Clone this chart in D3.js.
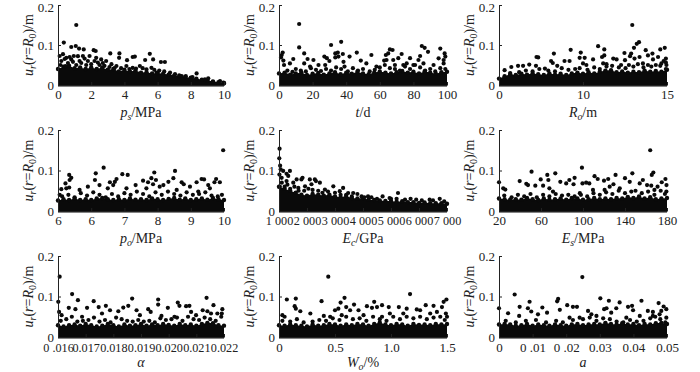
<!DOCTYPE html>
<html>
<head>
<meta charset="utf-8">
<script src="https://cdn.jsdelivr.net/npm/d3@7"></script>
<style>
  html, body { margin: 0; background: #fff; }
  svg { display: block; }
  text { font-family: "Liberation Serif", serif; fill: #222; }
</style>
</head>
<body>
<div id="chart"></div>
<script>
var svgWidth = 700;
var svgHeight = 372;

// y values shared by the panels
var yTicks = [0, 0.1, 0.2];
var yTickLabels = ["0", "0.1", "0.2"];

// panel 1: p_s
var psTicks = [0, 2, 4, 6, 8, 10];
var psLabels = ["0", "2", "4", "6", "8", "10"];
var psX = [1.1,.35,.8,1.07,1.27,1.55,2.15,2.27,3.7,3.15,4.5,4.63,5.53,5.25,5.73,6.2,6.44,4.16,3.68,3.22,2.6,1.9,1.5,.95,.3,.1,.5,.8,1.3,1.8,2.4,2.9,8.35,6.75,7.05,7.45,8.85,9.05,9.76,9.35,9.96,10,4.5,5.33,5.63,5.94,4.93,4.12,3.52];
var psY = [.15,.106,.095,.0975,.091,.089,.087,.085,.079,.079,.07,.071,.078,.0625,.064,.0575,.0575,.062,.068,.052,.064,.0725,.0725,.0725,.077,.0725,.068,.064,.06,.06,.056,.06,.029,.031,.027,.0225,.014,.0167,.01,.0075,.006,.004,.043,.039,.043,.031,.0475,.0475,.0475];
var psMoreX = [.2,.4,.6,.9,1.1,1.4,1.7,2,2.2,2.5,2.8,3.1,3.4,3.8,4.3,4.7,5.1,5.8,6.1,6.4,6.7,7.3,7.7,8.1,.15,.45,.7,1.2,1.6,2.3,2.7];
var psMoreY = [.06,.065,.055,.058,.05,.055,.05,.052,.06,.05,.048,.045,.042,.042,.04,.041,.042,.038,.036,.034,.026,.024,.022,.02,.05,.047,.07,.072,.066,.068,.055];
var psBand = [.04,.046,.048,.042,.044,.04,.044,.04,.044,.038,.04,.034,.038,.034,.036,.031,.032,.029,.03,.028,.026,.024,.022,.02,.018,.016,.013,.012,.009,.007,.005];

// panel 2: t
var tTicks = [0, 20, 40, 60, 80, 100];
var tLabels = ["0", "20", "40", "60", "80", "100"];
var tX = [12,12,31,37,1.6,2.2,1.2,2.6,3,8.5,6.5,15,17,20.5,15,27,28.5,30,27.5,33.5,35,38,33.5,35.4,38.4,42,46.3,48.7,55,52,63.6,65,66,67.6,73,71,68,64,62.6,85,86.7,88.7,84,83,78,96,98.6,99,95,98,98,76,80,86,92,18.5,23.5,39,58,69,74];
var tY = [.1525,.094,.1,.108,.075,.081,.069,.061,.05,.065,.054,.079,.065,.0625,.054,.071,.067,.06,.05,.079,.081,.0775,.069,.071,.058,.071,.081,.061,.075,.054,.075,.079,.089,.0875,.0775,.067,.0625,.0625,.061,.0975,.093,.083,.0725,.0625,.067,.091,.079,.071,.0667,.0625,.054,.054,.05,.054,.05,.046,.05,.046,.046,.05,.05];
var tMoreX = [5,8,10,13,16,19,22,25,28,31,34,37,41,44,47,50,54,57,60,63,66,69,72,75,78,81,84,87,90,93,96,99];
var tMoreY = [.036,.033,.04,.036,.034,.042,.038,.035,.04,.036,.044,.04,.034,.042,.036,.04,.034,.038,.044,.05,.042,.04,.036,.046,.04,.05,.044,.036,.04,.034,.042,.04];
var tBand = [.029,.031,.026,.029,.031,.025,.028,.03,.026,.029,.032,.027,.031,.028,.033,.029,.027,.031,.034,.031,.029,.032,.035,.031,.033,.029,.034,.031,.028,.032,.033];

// panel 3: R_0
var roTicks = [0, 7.5, 15];
var roLabels = ["0", "10", "15"];
var roX = [11.9,12.5,12.3,12.05,8.85,9.4,6.4,4.9,7.3,3.5,3.35,7.2,7.65,8.4,9.4,9.2,11.2,13.1,13.3,14.4,14.8,14.9,13.7,11.8,10.2,10.5,11.25,11.7,12.1,12.55,14.2,13.75,4.65,4.8,5.85,6.3,1.7,2.15,2.7,3.3,1.1,5.2,7.5,7.8,9.3,9.6,10.9,12.85,14.5,14.95,.5,4.1];
var roY = [.15,.107,.103,.093,.097,.089,.088,.0785,.081,.069,.07,.068,.068,.064,.074,.07,.08,.087,.074,.089,.093,.066,.0785,.0785,.066,.064,.062,.072,.066,.07,.07,.064,.06,.055,.06,.06,.048,.048,.051,.048,.045,.048,.054,.05,.054,.052,.05,.054,.054,.05,.037,.041];
var roMoreX = [1,1.8,2.4,3,3.6,4.4,5,5.6,6.2,6.8,7.2,7.9,8.5,9,9.6,10.1,10.7,11.3,11.6,12,12.4,12.9,13.3,13.6,14,14.4,14.7,14.9,14.9];
var roMoreY = [.03,.032,.036,.034,.04,.036,.034,.042,.038,.04,.042,.038,.044,.04,.046,.048,.044,.042,.05,.046,.052,.044,.05,.046,.05,.048,.06,.056,.04];
var roBand = [.016,.022,.027,.025,.028,.026,.029,.027,.025,.029,.026,.028,.025,.029,.031,.028,.032,.029,.033,.036,.037,.032,.034,.031,.033,.032,.036,.033,.035,.033,.038];

// panel 4: p_0
var poTicks = [6, 6.8, 7.6, 8.4, 9.2, 10];
var poLabels = ["6", "6", "7", "8", "9", "10"];
var poX = [9.98,7.1,6.91,6.27,6.32,6.28,6.18,6.27,6.08,6.04,6.89,7,6.72,7.25,7.33,7.41,7.37,7.55,7.68,7.65,7.87,8.05,8.17,8.25,8.32,8.36,8.29,8.54,8.66,8.78,8.82,8.45,8.98,9.03,9.18,9.34,9.46,9.52,9.62,9.81,9.9,9.77,6.52,7.2,8.13,8.86,9.38,9.66,6.2];
var poY = [.15,.107,.093,.089,.082,.0765,.068,.058,.054,.04,.0765,.064,.06,.071,.064,.079,.072,.091,.089,.056,.064,.075,.071,.081,.095,.0765,.066,.064,.072,.081,.099,.06,.071,.066,.06,.071,.079,.078,.064,.079,.071,.071,.052,.056,.056,.052,.048,.056,.056];
var poMoreX = [6.1,6.25,6.4,6.55,6.7,6.85,7,7.15,7.3,7.45,7.6,7.75,7.9,8.05,8.2,8.35,8.5,8.65,8.8,8.95,9.1,9.25,9.4,9.55,9.7,9.85,9.95];
var poMoreY = [.036,.04,.034,.044,.038,.046,.04,.034,.042,.036,.044,.04,.048,.042,.036,.046,.04,.048,.042,.038,.046,.04,.042,.046,.038,.036,.04];
var poBand = [.026,.029,.027,.031,.027,.029,.027,.031,.032,.029,.027,.029,.027,.031,.028,.029,.027,.031,.029,.027,.03,.032,.028,.031,.027,.029,.031,.028,.032,.029,.027];

// panel 5: E_c
var ecTicks = [1000, 2000, 3000, 4000, 5000, 6000, 7000];
var ecLabels = ["1 000", "2 000", "3 000", "4 000", "5 000", "6 000", "7 000"];
var ecX = [1020,1040,1060,1150,1390,1270,1095,1330,1800,1630,1840,2100,2280,2320,2460,2160,2940,3290,3650,5250,3950,4180,4950,5900,6380,6740,1270,1510,1690,1930,2640,3170,3470,1010,1015,1030];
var ecY = [.154,.112,.103,.099,.099,.092,.082,.0865,.078,.078,.082,.078,.078,.074,.07,.066,.061,.057,.0445,.0445,.036,.036,.032,.028,.028,.03,.074,.07,.057,.061,.053,.049,.0445,.13,.09,.06];
var ecMoreX = [1100,1200,1300,1400,1550,1700,1900,2050,2200,2400,2550,2750,3000,3200,3400,3600,3800,4050,4300,4500,4700,5000,5200,5500,5700,6100,6500,6900];
var ecMoreY = [.07,.06,.065,.055,.06,.05,.05,.055,.052,.05,.045,.048,.045,.04,.04,.036,.042,.034,.034,.03,.036,.03,.03,.028,.03,.026,.026,.024];
var ecBand = [.06,.055,.05,.045,.04,.038,.042,.04,.038,.04,.036,.034,.037,.032,.031,.032,.028,.027,.026,.025,.025,.023,.024,.022,.022,.02,.021,.019,.019,.019,.018];

// panel 6: E_s
var esTicks = [20, 60, 100, 140, 180];
var esLabels = ["20", "60", "100", "140", "180"];
var esX = [164,99,51,167,165.5,66,73.6,147,131,20,92,87,84,91,78.4,67,59.7,39.7,46,47.6,54.6,62,68,24,26,99.5,103,106,111,114,120,124,129,140,144.5,157,154,161,165,175,178.5,179.5,171,168,135,125.4,120.6,109.5,97,71.4,179.4];
var esY = [.15,.107,.097,.095,.089,.089,.093,.093,.089,.071,.082,.0765,.068,.066,.072,.0765,.078,.074,.067,.064,.0625,.0625,.056,.056,.053,.068,.07,.068,.086,.079,.075,.079,.066,.081,.072,.0765,.068,.064,.0625,.071,.079,.064,.06,.052,.056,.06,.052,.052,.044,.048,.048];
var esMoreX = [25,32,38,44,50,56,62,68,74,80,86,92,98,104,110,116,122,128,134,140,146,150,156,162,168,174,178];
var esMoreY = [.038,.034,.04,.036,.042,.034,.04,.036,.042,.038,.04,.036,.04,.036,.044,.04,.046,.042,.05,.044,.048,.05,.044,.048,.04,.05,.042];
var esBand = [.031,.029,.028,.029,.028,.032,.029,.027,.031,.028,.029,.031,.028,.032,.031,.028,.029,.032,.029,.031,.029,.032,.031,.035,.032,.036,.031,.034,.029,.031,.032];

// panel 7: alpha
var alTicks = [.016, .017, .018, .019, .02, .021, .022];
var alLabels = ["0 .016", "0.017", "0.018", "0.019", "0.020", "0.021", "0.022"];
var alX = [.01606,.01651,.01601,.01672,.01729,.01773,.01868,.01962,.01962,.02033,.02039,.02137,.02162,.02194,.02192,.02063,.02075,.02123,.0214,.01639,.01604,.01613,.01663,.01705,.01747,.01788,.01818,.01836,.01854,.01884,.01896,.01926,.01935,.01997,.02081,.02099,.02176,.02153,.01687,.01759,.01974,.02021];
var alY = [.149,.106,.0868,.091,.0885,.077,.095,.0926,.08,.085,.077,.0967,.0785,.0686,.058,.076,.077,.066,.0636,.072,.062,.054,.0686,.072,.074,.066,.0636,.0727,.077,.066,.054,.0686,.062,.072,.062,.054,.058,.058,.05,.058,.052,.05];
var alMoreX = [.0161,.0163,.0165,.0167,.0169,.0171,.0173,.0175,.0177,.0179,.0181,.0183,.0185,.0187,.0189,.0191,.0193,.0195,.0197,.0199,.0201,.0203,.0205,.0207,.0209,.0211,.0213,.0215,.0217,.0219];
var alMoreY = [.04,.044,.05,.038,.04,.042,.048,.038,.042,.036,.048,.044,.04,.038,.042,.038,.04,.036,.046,.042,.044,.048,.04,.05,.044,.042,.048,.044,.04,.05];
var alBand = [.029,.026,.029,.031,.028,.032,.029,.026,.028,.032,.029,.026,.031,.028,.029,.032,.028,.031,.029,.032,.03,.028,.032,.029,.031,.028,.032,.035,.034,.029,.028];

// panel 8: W_0
var woTicks = [0, .5, 1, 1.5];
var woLabels = ["0", "0.5", "1.0", "1.5"];
var woX = [.44,1.17,.07,.15,.38,.585,1.495,1.47,.85,.55,.14,.15,.19,.28,.03,.05,.4,.5,.53,.6,.635,.67,.71,.785,.83,.875,.92,.98,1.07,1.14,1.23,1.31,1.38,1.455,1.41,1.49,1.5,1.26,.99,.92,.755,.56,.457,1.35,1.11];
var woY = [.149,.106,.0926,.095,.0885,.0967,.0926,.0868,.0868,.085,.076,.07,.0636,.058,.054,.05,.052,.066,.07,.074,.066,.08,.066,.076,.072,.074,.0785,.074,.074,.07,.068,.0785,.077,.074,.062,.058,.05,.066,.058,.05,.054,.054,.05,.058,.058];
var woMoreX = [.03,.1,.16,.22,.3,.36,.42,.48,.54,.6,.66,.72,.78,.84,.9,.96,1.02,1.08,1.14,1.2,1.26,1.32,1.38,1.44,1.48];
var woMoreY = [.04,.038,.044,.036,.038,.042,.04,.046,.042,.05,.044,.046,.04,.05,.044,.04,.05,.044,.05,.046,.05,.044,.048,.05,.042];
var woBand = [.029,.028,.031,.029,.028,.026,.031,.028,.029,.032,.031,.028,.031,.029,.032,.031,.028,.032,.036,.031,.029,.032,.031,.028,.032,.03,.031,.029,.032,.031,.032];

// panel 9: a
var aTicks = [0, .01, .02, .03, .04, .05];
var aLabels = ["0", "0 .01", "0 .02", "0.03", "0.04", "0.05"];
var aX = [.0248,.00466,0,.0091,.0176,.0173,.03016,.0327,.0424,.0475,.049,.0129,.0086,.00615,.0027,.0203,.022,.0232,.0181,.0265,.0313,.032,.0349,.0359,.0384,.0396,.0399,.0443,.0458,.0483,.0478,.0498,.0334,.0275,.029,.0143,.0096,.0116,.006,.021,.024,.0419,.0458,.0498,.0379];
var aY = [.148,.105,.071,.087,.094,.088,.0954,.0895,.0895,.0837,.0753,.0728,.071,.0745,.0586,.0787,.0745,.0745,.067,.0644,.0686,.071,.071,.0854,.0745,.077,.066,.0644,.062,.0644,.056,.0686,.06,.056,.052,.06,.063,.056,.052,.0477,.0477,.052,.052,.0477,.0477];
var aMoreX = [.002,.005,.008,.011,.014,.017,.019,.022,.025,.027,.029,.031,.033,.035,.037,.039,.041,.043,.045,.0465,.048,.0495];
var aMoreY = [.04,.036,.04,.042,.036,.04,.036,.042,.044,.048,.04,.046,.044,.038,.036,.042,.038,.04,.046,.05,.044,.036];
var aBand = [.031,.032,.031,.028,.029,.032,.028,.031,.029,.028,.031,.029,.028,.031,.032,.029,.031,.032,.031,.035,.032,.031,.034,.031,.032,.029,.032,.031,.034,.035,.032];

// rich text: [text, italic, subscript]
var yTitle = [["u", 1, 0], ["r", 1, 1], ["(", 0, 0], ["r", 1, 0], ["=", 0, 0], ["R", 1, 0], ["0", 0, 1], [")/m", 0, 0]];
var xTitles = [
  [["p", 1, 0], ["s", 1, 1], ["/MPa", 0, 0]],
  [["t", 1, 0], ["/d", 0, 0]],
  [["R", 1, 0], ["o", 1, 1], ["/m", 0, 0]],
  [["p", 1, 0], ["o", 1, 1], ["/MPa", 0, 0]],
  [["E", 1, 0], ["c", 1, 1], ["/GPa", 0, 0]],
  [["E", 1, 0], ["s", 1, 1], ["/MPa", 0, 0]],
  [["\u03b1", 1, 0]],
  [["W", 1, 0], ["o", 1, 1], ["/%", 0, 0]],
  [["a", 1, 0]]
];

var colLeft = [58, 279, 499];
var colRight = [224, 447, 667];
var rowTop = [5, 130, 256];
var rowBottom = [85, 211, 337];
var titleGap = [32, 32, 30];
var tickGap = [5, 5, 6];

var panels = [
  { col: 0, row: 0, domain: [0, 10], ticks: psTicks, labels: psLabels, xs: psX.concat(psMoreX), ys: psY.concat(psMoreY), band: psBand, title: xTitles[0], tickFont: 13 },
  { col: 1, row: 0, domain: [0, 100], ticks: tTicks, labels: tLabels, xs: tX.concat(tMoreX), ys: tY.concat(tMoreY), band: tBand, title: xTitles[1], tickFont: 13 },
  { col: 2, row: 0, domain: [0, 15], ticks: roTicks, labels: roLabels, xs: roX.concat(roMoreX), ys: roY.concat(roMoreY), band: roBand, title: xTitles[2], tickFont: 13 },
  { col: 0, row: 1, domain: [6, 10], ticks: poTicks, labels: poLabels, xs: poX.concat(poMoreX), ys: poY.concat(poMoreY), band: poBand, title: xTitles[3], tickFont: 13 },
  { col: 1, row: 1, domain: [1000, 7000], ticks: ecTicks, labels: ecLabels, xs: ecX.concat(ecMoreX), ys: ecY.concat(ecMoreY), band: ecBand, title: xTitles[4], tickFont: 12.2 },
  { col: 2, row: 1, domain: [20, 180], ticks: esTicks, labels: esLabels, xs: esX.concat(esMoreX), ys: esY.concat(esMoreY), band: esBand, title: xTitles[5], tickFont: 13 },
  { col: 0, row: 2, domain: [.016, .022], ticks: alTicks, labels: alLabels, xs: alX.concat(alMoreX), ys: alY.concat(alMoreY), band: alBand, title: xTitles[6], tickFont: 12.2 },
  { col: 1, row: 2, domain: [0, 1.5], ticks: woTicks, labels: woLabels, xs: woX.concat(woMoreX), ys: woY.concat(woMoreY), band: woBand, title: xTitles[7], tickFont: 13 },
  { col: 2, row: 2, domain: [0, .05], ticks: aTicks, labels: aLabels, xs: aX.concat(aMoreX), ys: aY.concat(aMoreY), band: aBand, title: xTitles[8], tickFont: 13 }
];

var svg = d3.select("#chart")
  .append("svg")
  .attr("width", svgWidth)
  .attr("height", svgHeight)
  .style("background", "#fff");

function richText(textSel, segments, size) {
  segments.forEach((s, i) => {
    var prevSub = i > 0 && segments[i - 1][2];
    var shift = (s[2] ? 3 : 0) - (prevSub ? 3 : 0);
    textSel.append("tspan")
      .attr("dy", shift)
      .attr("font-style", s[1] ? "italic" : "normal")
      .attr("font-size", s[2] ? size * 0.7 : size)
      .text(s[0]);
  });
}

panels.forEach(p => {
  var left = colLeft[p.col], right = colRight[p.col];
  var top = rowTop[p.row], bottom = rowBottom[p.row];

  var x = d3.scaleLinear().domain(p.domain).range([left, right]);
  var y = d3.scaleLinear().domain([0, 0.2]).range([bottom, top]);

  // stations along x for the solid part of the cloud, where single points can't be read
  var station = d3.scaleLinear().domain([0, p.band.length - 1]).range(p.domain);
  var bandData = p.band.map((v, i) => ({ x: station(i), y: v }));

  var g = svg.append("g");

  g.append("path")
    .datum(bandData)
    .attr("fill", "#0a0a0a")
    .attr("d", d3.area().x(d => x(d.x)).y0(y(0) + 1.5).y1(d => y(d.y)));

  g.selectAll("circle.band")
    .data(bandData)
    .enter()
    .append("circle")
    .attr("class", "band")
    .attr("cx", d => x(d.x))
    .attr("cy", d => y(d.y))
    .attr("r", 2.2)
    .attr("fill", "#0a0a0a");

  g.selectAll("circle.pt")
    .data(p.xs.map((v, i) => ({ x: v, y: p.ys[i] })))
    .enter()
    .append("circle")
    .attr("class", "pt")
    .attr("cx", d => x(d.x))
    .attr("cy", d => y(d.y))
    .attr("r", 2.1)
    .attr("fill", "#0a0a0a");

  var yAxis = d3.axisLeft(y)
    .tickValues(yTicks)
    .tickFormat((d, i) => yTickLabels[i])
    .tickSizeInner(-3)
    .tickSizeOuter(0)
    .tickPadding(4);

  var xAxis = d3.axisBottom(x)
    .tickValues(p.ticks)
    .tickFormat((d, i) => p.labels[i])
    .tickSizeInner(-3)
    .tickSizeOuter(0)
    .tickPadding(tickGap[p.row]);

  var yg = g.append("g").attr("transform", `translate(${left}, 0)`).call(yAxis);
  var xg = g.append("g").attr("transform", `translate(0, ${bottom})`).call(xAxis);

  yg.selectAll("text").attr("font-size", 13);
  xg.selectAll("text").attr("font-size", p.tickFont);
  g.selectAll("line, .domain").attr("stroke", "#222").attr("stroke-width", 1);

  // top row's 0.2 sits at the page edge
  if (p.row == 0) {
    yg.selectAll("text").filter(d => d == 0.2).attr("dy", "0.5em");
  }

  var xt = g.append("text")
    .attr("x", (left + right) / 2)
    .attr("y", bottom + titleGap[p.row])
    .attr("text-anchor", "middle");
  richText(xt, p.title, 14);

  var yt = g.append("text")
    .attr("transform", `translate(${left - 25}, ${(top + bottom) / 2}) rotate(-90)`)
    .attr("text-anchor", "middle");
  richText(yt, yTitle, 14);
});
</script>
</body>
</html>
